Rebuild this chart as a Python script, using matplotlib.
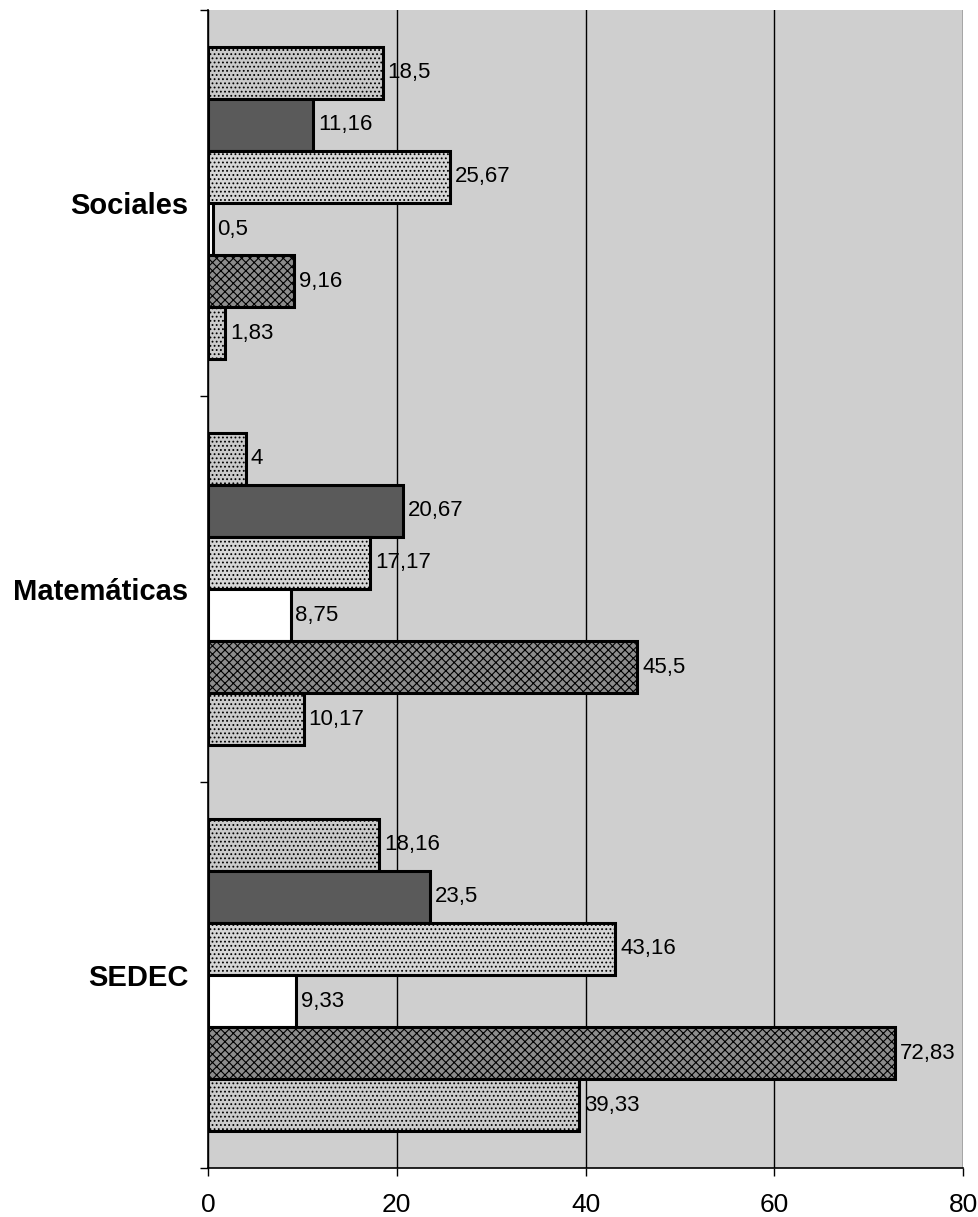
import numpy as np
import matplotlib
matplotlib.use("Agg")
import matplotlib.pyplot as plt

plt.rcParams["font.family"] = ["Liberation Sans", "DejaVu Sans"]

# categories, bottom to top
categories = ["SEDEC", "Matemáticas", "Sociales"]

# one list per series (top bar of each group first), values per category bottom->top
serie1 = [18.16, 4, 18.5]
serie2 = [23.5, 20.67, 11.16]
serie3 = [43.16, 17.17, 25.67]
serie4 = [9.33, 8.75, 0.5]
serie5 = [72.83, 45.5, 9.16]
serie6 = [39.33, 10.17, 1.83]
series = [serie1, serie2, serie3, serie4, serie5, serie6]

xticks = [0, 20, 40, 60, 80]

fills = ["#cacaca", "#5a5a5a", "#d6d6d6", "#ffffff", "#8c8c8c", "#cccccc"]
hatches = ["....", None, "....", None, "xxxx", "...."]

plt.rcParams["hatch.color"] = "#909090"
plt.rcParams["hatch.linewidth"] = 0.8

fig = plt.figure(figsize=(9.79, 12.17), dpi=100)
ax = fig.add_axes([0.2125, 0.0403, 0.7712, 0.9515])
ax.set_facecolor("#cfcfcf")

y = np.arange(len(categories))
h = 0.135
for i, (vals, fc, ht) in enumerate(zip(series, fills, hatches)):
    pos = y + (2.5 - i) * h
    bars = ax.barh(pos, vals, height=h, color=fc, edgecolor="black",
                   linewidth=2.2, hatch=ht, zorder=3)
    for b, v in zip(bars, vals):
        txt = f"{v:g}".replace(".", ",")
        ax.text(v + 0.5, b.get_y() + h / 2, txt, va="center", ha="left",
                fontsize=16, zorder=4)

ax.set_xlim(0, 80)
ax.set_ylim(-0.5, 2.5)
ax.set_xticks(xticks)
ax.set_xticklabels([str(t) for t in xticks], fontsize=19)
ax.tick_params(axis="x", direction="out", length=6, width=1, pad=12)

ax.set_yticks(y)
ax.set_yticklabels(categories, fontsize=21, fontweight="bold")
ax.tick_params(axis="y", which="major", length=0, pad=14)
ax.set_yticks([-0.5, 0.5, 1.5, 2.5], minor=True)
ax.tick_params(axis="y", which="minor", direction="out", length=6, width=1)

ax.xaxis.grid(True, color="black", linewidth=1)
ax.set_axisbelow(True)
for s in ["top", "right"]:
    ax.spines[s].set_visible(False)
ax.spines["left"].set_linewidth(1.2)
ax.spines["bottom"].set_linewidth(1.2)

fig.savefig("out.png", dpi=100)
